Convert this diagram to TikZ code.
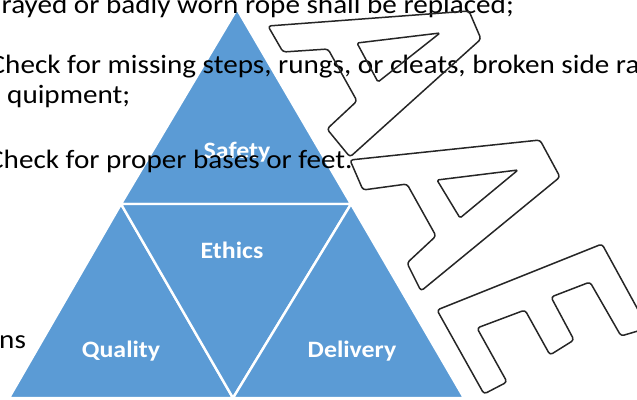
\documentclass[tikz,border=0pt]{standalone}
\usepackage{fontspec}
\newfontfamily\bodyfont{Carlito}[FakeStretch=1.1]
\newfontfamily\labfont{Carlito}[FakeStretch=1.1]
\definecolor{pyr}{HTML}{5B9BD5}
\tikzset{
  seg/.style={fill=pyr, draw=white, line width=2.4pt, line join=miter},
  lab/.style={text=white, font=\labfont\bfseries\fontsize{23.5}{26}\selectfont, inner sep=0pt, anchor=base},
  body/.style={text=black, font=\bodyfont\fontsize{26.5}{30}\selectfont, inner sep=0pt, anchor=base west},
  letter/.style={draw=black!85, line width=1.5pt, rounded corners=3pt, line join=round},
  counter/.style={draw=black!85, line width=1.5pt, rounded corners=1.5pt, line join=round}
}
\begin{document}
\begin{tikzpicture}[x=1pt,y=-1pt]
\useasboundingbox (0,0) rectangle (637,399);
\clip (0,0) rectangle (637,399);
% pyramid
\coordinate (A) at (237,9);
\coordinate (L) at (9,398);
\coordinate (R) at (464,398);
\coordinate (ML) at (121,204);
\coordinate (MR) at (351,204);
\coordinate (MB) at (233,398);
\path[seg] (A) -- (ML) -- (MR) -- cycle;
\path[seg] (ML) -- (L) -- (MB) -- cycle;
\path[seg] (ML) -- (MR) -- (MB) -- cycle;
\path[seg] (MR) -- (MB) -- (R) -- cycle;
\node[lab] (safety) at (237,158) {Safety};
\node[lab] (ethics) at (232,258) {Ethics};
\node[lab] (quality) at (121,357) {Quality};
\node[lab] (delivery) at (352,357) {Delivery};
% background text
\node[body] (l1) at (1.5,13.5) {rayed or badly worn rope shall be replaced;};
\node[body] (l2) at (-10.5,73) {Check for missing steps, rungs, or cleats, broken side ra};
\node[body] (l3) at (7,103.5) {quipment;};
\node[body] (l4) at (-12,168) {Check for proper bases or feet.};
\node[body] (l5) at (-1,348) {ns};
% outlined letters A A E
\draw[letter] (268,26) -- (469,11) -- (481,39) -- (350,157) -- (327,129) -- (357,101) -- (328,49) -- (283,52) -- cycle;
\draw[counter] (357,43) -- (440,33) -- (378,82) -- cycle;
\draw[letter] (350,160) -- (540,140) -- (560,177) -- (421,291) -- (407,263) -- (436,236) -- (407,184) -- (363,190) -- cycle;
\draw[counter] (437,180) -- (518,170) -- (460,218) -- cycle;
\draw[letter] (437,310) -- (602,244) -- (648,328) -- (621,336) -- (590,282) -- (551,297) -- (574,340) -- (550,355) -- (525,310) -- (477,328) -- (507,382) -- (484,394) -- cycle;
\end{tikzpicture}
\end{document}
